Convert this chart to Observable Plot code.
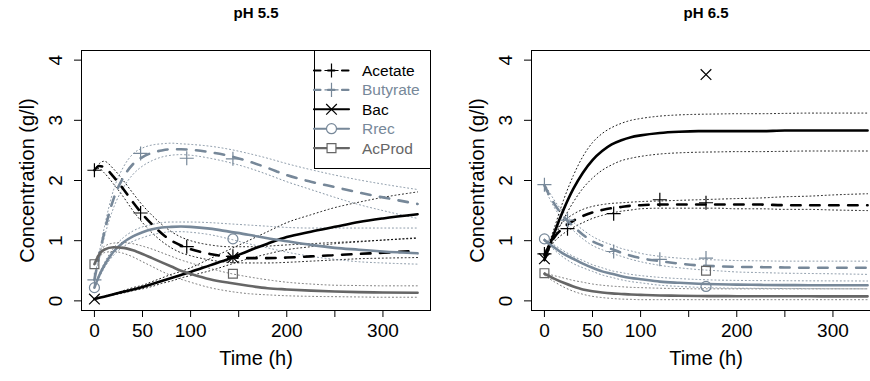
<!DOCTYPE html>
<html><head><meta charset="utf-8">
<script src="https://cdn.jsdelivr.net/npm/d3@7"></script>
<script src="https://cdn.jsdelivr.net/npm/@observablehq/plot@0.6"></script>
<style>
html,body{margin:0;padding:0;background:#fff;}
#wrap{position:relative;width:870px;height:381px;overflow:hidden;background:#fff;font-family:"Liberation Sans",Arial,Helvetica,sans-serif;}
.panel{position:absolute;top:0;}
</style></head>
<body><div id="wrap"></div>
<script>
// ---------- data ----------
const seriesNames = ["Acetate","Butyrate","Bac","Rrec","AcProd"];
const seriesColors = ["#000000","#778899","#000000","#778899","#666666"];
const seriesDash = ["9.5,9.5","9.5,9.5",null,null,null];
const legendDash = ["6.5,7.5","6.5,7.5",null,null,null];
const seriesSymbol = ["plus","plus","times","circle","square"];
const seriesSymbolR = [4.6,4.6,4.9,5,5];
const xTicks = [0,50,100,150,200,250,300];
const xTickLabels = ["0","50","100","","200","","300"];
const yTicks = [0,1,2,3,4];
const panelTitles = ["pH 5.5","pH 6.5"];

// model time grid (h)
const tModel = [0,5,10,20,30,40,50,60,70,80,90,100,120,140,160,180,200,225,250,275,300,336];

// ---- pH 5.5 model fits and bands ----
const acetate55    = [2.17,2.24,2.22,2.06,1.86,1.64,1.44,1.27,1.12,1.00,0.92,0.86,0.78,0.73,0.71,0.71,0.72,0.74,0.76,0.78,0.80,0.83];
const acetate55Hi  = [2.18,2.28,2.32,2.19,2.00,1.79,1.59,1.42,1.27,1.15,1.06,1.00,0.93,0.90,0.90,0.91,0.93,0.95,0.97,0.99,1.01,1.04];
const acetate55Lo  = [2.16,2.20,2.13,1.94,1.73,1.50,1.30,1.13,0.99,0.88,0.80,0.75,0.68,0.64,0.63,0.63,0.64,0.66,0.68,0.70,0.71,0.72];
const butyrate55   = [0.35,0.75,1.12,1.70,2.05,2.27,2.39,2.46,2.50,2.52,2.52,2.51,2.47,2.41,2.32,2.21,2.09,1.98,1.89,1.80,1.72,1.61];
const butyrate55Hi = [0.36,0.80,1.20,1.85,2.22,2.44,2.54,2.59,2.61,2.62,2.61,2.60,2.57,2.52,2.45,2.37,2.28,2.18,2.09,2.01,1.94,1.85];
const butyrate55Lo = [0.34,0.70,1.04,1.55,1.88,2.10,2.24,2.33,2.39,2.42,2.43,2.42,2.37,2.30,2.21,2.10,1.98,1.85,1.72,1.60,1.50,1.37];
const bac55        = [0.03,0.05,0.07,0.11,0.15,0.19,0.23,0.28,0.33,0.38,0.43,0.48,0.59,0.70,0.83,0.95,1.06,1.15,1.23,1.31,1.37,1.44];
const bac55Hi      = [0.03,0.05,0.08,0.12,0.17,0.22,0.26,0.32,0.38,0.44,0.49,0.55,0.70,0.85,1.00,1.15,1.30,1.43,1.55,1.64,1.72,1.81];
const bac55Lo      = [0.03,0.05,0.07,0.10,0.13,0.17,0.20,0.24,0.29,0.33,0.38,0.42,0.50,0.60,0.70,0.78,0.85,0.90,0.95,0.98,1.01,1.05];
const rrec55       = [0.22,0.42,0.58,0.82,0.97,1.07,1.14,1.19,1.22,1.23,1.235,1.23,1.20,1.15,1.10,1.04,0.99,0.93,0.88,0.85,0.82,0.79];
const rrec55Hi     = [0.23,0.45,0.62,0.88,1.05,1.16,1.23,1.27,1.30,1.31,1.31,1.31,1.30,1.28,1.26,1.24,1.22,1.21,1.21,1.21,1.21,1.21];
const rrec55Lo     = [0.21,0.39,0.54,0.76,0.90,0.99,1.05,1.10,1.13,1.15,1.15,1.14,1.10,1.03,0.95,0.88,0.81,0.74,0.69,0.65,0.63,0.61];
const acprod55     = [0.61,0.77,0.85,0.89,0.88,0.84,0.78,0.71,0.64,0.57,0.50,0.45,0.36,0.30,0.25,0.21,0.19,0.17,0.155,0.145,0.14,0.135];
const acprod55Hi   = [0.62,0.82,0.90,0.96,0.97,0.95,0.91,0.86,0.80,0.74,0.68,0.63,0.54,0.46,0.40,0.35,0.31,0.28,0.26,0.255,0.25,0.25];
const acprod55Lo   = [0.60,0.72,0.80,0.82,0.79,0.73,0.65,0.57,0.49,0.42,0.36,0.31,0.22,0.16,0.12,0.10,0.085,0.075,0.07,0.065,0.06,0.06];

// ---- pH 6.5 model fits and bands ----
const acetate65    = [0.76,0.92,1.05,1.22,1.33,1.41,1.47,1.51,1.54,1.56,1.58,1.59,1.60,1.60,1.60,1.60,1.60,1.60,1.59,1.59,1.59,1.59];
const acetate65Hi  = [0.78,0.97,1.12,1.32,1.44,1.52,1.57,1.60,1.62,1.63,1.64,1.65,1.66,1.67,1.68,1.69,1.70,1.71,1.73,1.74,1.76,1.78];
const acetate65Lo  = [0.74,0.87,0.98,1.12,1.22,1.30,1.37,1.42,1.46,1.49,1.51,1.53,1.54,1.54,1.54,1.54,1.53,1.53,1.52,1.52,1.51,1.50];
const butyrate65   = [1.92,1.76,1.62,1.40,1.24,1.10,0.99,0.92,0.86,0.80,0.75,0.71,0.66,0.62,0.59,0.575,0.565,0.56,0.555,0.55,0.55,0.55];
const butyrate65Hi = [1.95,1.81,1.68,1.47,1.31,1.18,1.07,0.99,0.93,0.87,0.83,0.79,0.74,0.71,0.69,0.68,0.67,0.665,0.66,0.66,0.66,0.66];
const butyrate65Lo = [1.89,1.71,1.56,1.33,1.17,1.03,0.92,0.85,0.79,0.74,0.69,0.65,0.59,0.55,0.52,0.50,0.48,0.47,0.46,0.455,0.45,0.44];
const bac65        = [0.68,0.90,1.12,1.52,1.86,2.13,2.34,2.49,2.60,2.67,2.72,2.75,2.79,2.81,2.82,2.82,2.82,2.82,2.83,2.83,2.83,2.83];
const bac65Hi      = [0.70,0.96,1.20,1.68,2.08,2.40,2.63,2.78,2.88,2.95,3.00,3.03,3.07,3.09,3.10,3.105,3.11,3.11,3.115,3.12,3.12,3.12];
const bac65Lo      = [0.66,0.85,1.04,1.36,1.64,1.87,2.04,2.17,2.26,2.33,2.37,2.40,2.44,2.46,2.47,2.475,2.48,2.48,2.485,2.49,2.49,2.49];
const rrec65       = [1.01,0.95,0.89,0.78,0.70,0.62,0.55,0.49,0.45,0.41,0.38,0.36,0.32,0.30,0.285,0.275,0.27,0.265,0.262,0.26,0.26,0.26];
const rrec65Hi     = [1.03,0.98,0.93,0.83,0.74,0.67,0.60,0.55,0.50,0.47,0.44,0.42,0.39,0.37,0.355,0.345,0.34,0.337,0.335,0.333,0.332,0.33];
const rrec65Lo     = [0.99,0.92,0.85,0.72,0.62,0.55,0.49,0.43,0.39,0.35,0.32,0.30,0.26,0.24,0.225,0.215,0.21,0.207,0.205,0.203,0.201,0.20];
const acprod65     = [0.45,0.41,0.37,0.30,0.24,0.19,0.16,0.14,0.125,0.115,0.105,0.10,0.09,0.085,0.08,0.079,0.078,0.077,0.076,0.076,0.075,0.075];
const acprod65Hi   = [0.47,0.44,0.42,0.38,0.34,0.31,0.28,0.26,0.245,0.235,0.225,0.22,0.21,0.205,0.20,0.20,0.20,0.20,0.20,0.20,0.20,0.20];
const acprod65Lo   = [0.43,0.37,0.32,0.23,0.16,0.11,0.075,0.055,0.04,0.03,0.025,0.02,0.02,0.02,0.02,0.02,0.02,0.02,0.02,0.02,0.02,0.02];

// ---- observations ----
const obsTime55 = [0,48,96,144];
const acetateObs55  = [2.17,1.46,0.90,0.74];
const butyrateObs55 = [0.35,2.45,2.37,2.36];
const bacTime55 = [0,144];
const bacObs55 = [0.03,0.72];
const rrecObs55 = [0.22,1.03];
const acprodObs55 = [0.61,0.45];

const obsTime65 = [0,24,72,120,168];
const acetateObs65  = [0.78,1.20,1.45,1.68,1.63];
const butyrateObs65 = [1.93,1.34,0.82,0.69,0.71];
const bacTime65 = [0,168];
const bacObs65 = [0.70,3.76];
const rrecObs65 = [1.03,0.24];
const acprodObs65 = [0.46,0.50];

// ---------- assemble ----------
const panels = [
  {title: panelTitles[0], left: 0, width: 435, marginLeft: 81, marginRight: 5,
   fit:[acetate55,butyrate55,bac55,rrec55,acprod55],
   hi:[acetate55Hi,butyrate55Hi,bac55Hi,rrec55Hi,acprod55Hi],
   lo:[acetate55Lo,butyrate55Lo,bac55Lo,rrec55Lo,acprod55Lo],
   obsT:[obsTime55,obsTime55,bacTime55,bacTime55,bacTime55],
   obs:[acetateObs55,butyrateObs55,bacObs55,rrecObs55,acprodObs55], legend:true},
  {title: panelTitles[1], left: 435, width: 445, marginLeft: 96, marginRight: 0,
   fit:[acetate65,butyrate65,bac65,rrec65,acprod65],
   hi:[acetate65Hi,butyrate65Hi,bac65Hi,rrec65Hi,acprod65Hi],
   lo:[acetate65Lo,butyrate65Lo,bac65Lo,rrec65Lo,acprod65Lo],
   obsT:[obsTime65,obsTime65,bacTime65,bacTime65,bacTime65],
   obs:[acetateObs65,butyrateObs65,bacObs65,rrecObs65,acprodObs65], legend:false}
];

const FONT = '"Liberation Sans",Arial,Helvetica,sans-serif';
const wrap = document.getElementById("wrap");

panels.forEach(p => {
  const rows = arr => tModel.map((t,j) => ({t, c: arr[j]}));
  const marks = [];
  seriesNames.forEach((name,i) => {
    for (const band of [p.lo[i], p.hi[i]]) {
      marks.push(Plot.line(rows(band), {x:"t", y:"c", stroke: seriesColors[i], strokeWidth: 0.9,
        strokeDasharray: "1,2.8", curve: "monotone-x"}));
    }
  });
  seriesNames.forEach((name,i) => {
    const o = {x:"t", y:"c", stroke: seriesColors[i], strokeWidth: 2.6, curve: "monotone-x", strokeLinecap: "round"};
    if (seriesDash[i]) o.strokeDasharray = seriesDash[i];
    marks.push(Plot.line(rows(p.fit[i]), o));
  });
  seriesNames.forEach((name,i) => {
    const pts = p.obsT[i].map((t,j) => ({t, c: p.obs[i][j]}));
    marks.push(Plot.dot(pts, {x:"t", y:"c", symbol: seriesSymbol[i], r: seriesSymbolR[i],
      stroke: seriesColors[i], fill: "none", strokeWidth: 1.2}));
  });
  marks.push(Plot.frame({stroke:"black", strokeWidth:1}));
  marks.push(Plot.axisX({ticks: xTicks, tickSize: 7, tickPadding: 6, fontSize: 19,
    tickFormat: d => xTickLabels[xTicks.indexOf(d)], label: null}));
  marks.push(Plot.axisY({ticks: yTicks, tickSize: 7, tickFormat: () => "", label: null}));
  marks.push(Plot.text(yTicks, {y: d => d, text: d => String(d), frameAnchor: "left", dx: -26, rotate: -90,
    fontSize: 19, textAnchor: "middle", lineAnchor: "middle"}));
  marks.push(Plot.text(["Concentration (g/l)"], {frameAnchor: "left", dx: -54, rotate: -90, fontSize: 20,
    textAnchor: "middle", lineAnchor: "middle"}));
  marks.push(Plot.text(["Time (h)"], {frameAnchor: "bottom", dy: 48, fontSize: 20, textAnchor: "middle", lineAnchor: "middle"}));
  marks.push(Plot.text([p.title], {frameAnchor: "top", dy: -37, fontSize: 15, fontWeight: "bold", textAnchor: "middle", lineAnchor: "middle"}));

  const svg = Plot.plot({
    width: p.width, height: 381,
    marginLeft: p.marginLeft, marginRight: p.marginRight, marginTop: 50, marginBottom: 71,
    x: {domain: [-13.44, 349.44], label: null},
    y: {domain: [-0.16, 4.16], label: null},
    style: {fontFamily: FONT, background: "white", color: "black", overflow: "visible"},
    marks
  });
  svg.classList.add("panel");
  svg.style.left = p.left + "px";
  wrap.appendChild(svg);

  if (p.legend) {
    const L = d3.select(svg).append("g").attr("font-family", FONT).attr("text-anchor", "start");
    const bx = 314, by = 50, bw = 116, bh = 118;
    L.append("rect").attr("x", bx + 0.5).attr("y", by + 0.5).attr("width", bw).attr("height", bh)
      .attr("fill", "white").attr("stroke", "black").attr("stroke-width", 1);
    const symMap = {plus: d3.symbolPlus, times: d3.symbolTimes, circle: d3.symbolCircle, square: d3.symbolSquare};
    seriesNames.forEach((name,i) => {
      const yy = 70.5 + i * 19.4;
      const ln = L.append("line").attr("x1", 314).attr("x2", 349).attr("y1", yy).attr("y2", yy)
        .attr("stroke", seriesColors[i]).attr("stroke-width", 2.1).attr("stroke-linecap", "round");
      if (legendDash[i]) ln.attr("stroke-dasharray", legendDash[i]);
      const r = seriesSymbolR[i];
      L.append("path").attr("d", d3.symbol(symMap[seriesSymbol[i]], Math.PI * r * r)())
        .attr("transform", `translate(331.5,${yy})`).attr("fill", seriesSymbol[i]==="plus"||seriesSymbol[i]==="times" ? "none" : "white")
        .attr("stroke", seriesColors[i]).attr("stroke-width", 1.2);
      L.append("text").attr("x", 362).attr("y", yy).attr("dy", "0.35em").attr("font-size", 15.5)
        .attr("text-anchor", "start").attr("fill", seriesColors[i]).text(name);
    });
  }
});
</script>
</body></html>
